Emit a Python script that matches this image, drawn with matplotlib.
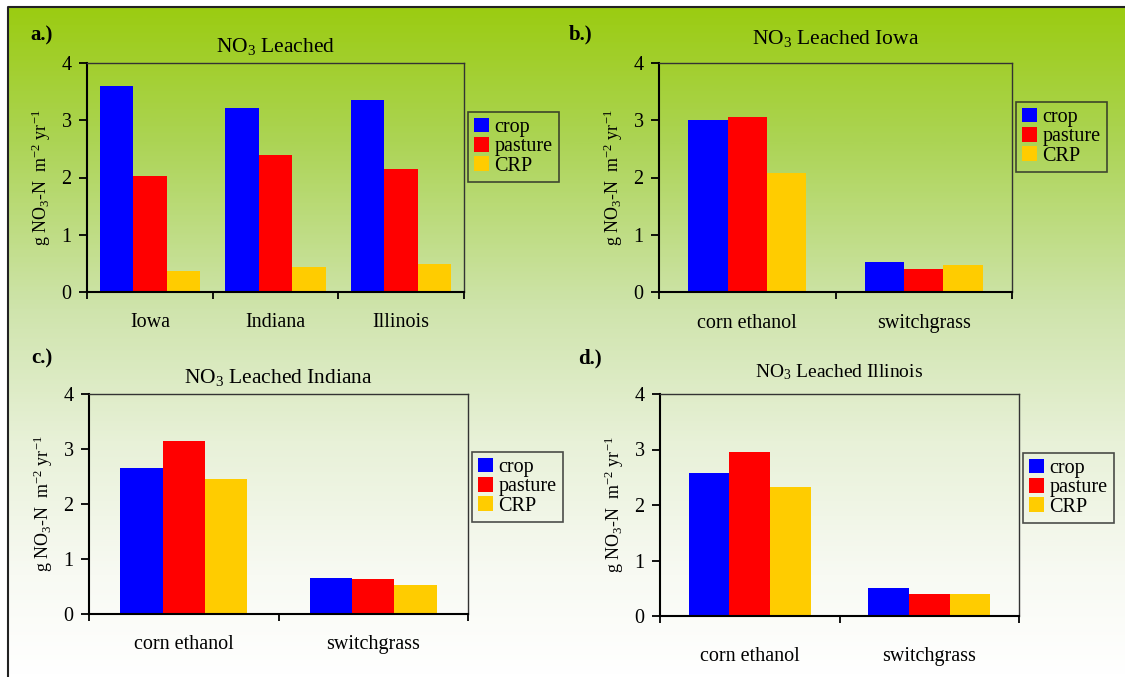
import numpy as np
import matplotlib
matplotlib.use("Agg")
import matplotlib.pyplot as plt
from matplotlib.colors import LinearSegmentedColormap

plt.rcParams['font.family'] = ['Liberation Serif', 'DejaVu Serif']
plt.rcParams['mathtext.fontset'] = 'custom'
plt.rcParams['mathtext.rm'] = 'Liberation Serif'
plt.rcParams['mathtext.it'] = 'Liberation Serif:italic'

# data
series = ['crop', 'pasture', 'CRP']
colors = ['#0000FF', '#FF0000', '#FFCC00']

states = ['Iowa', 'Indiana', 'Illinois']
a_crop = [3.60, 3.21, 3.35]
a_pasture = [2.03, 2.39, 2.15]
a_crp = [0.37, 0.44, 0.49]

fuels = ['corn ethanol', 'switchgrass']
b_crop = [3.01, 0.53]
b_pasture = [3.05, 0.41]
b_crp = [2.08, 0.48]

c_crop = [2.66, 0.66]
c_pasture = [3.15, 0.64]
c_crp = [2.46, 0.53]

d_crop = [2.57, 0.51]
d_pasture = [2.95, 0.40]
d_crp = [2.32, 0.40]

W, H = 1125, 677
fig = plt.figure(figsize=(W / 100, H / 100), dpi=100)

# slide background: green to white gradient with a thin frame
bg = fig.add_axes([0, 0, 1, 1], zorder=-10)
bg.set_xlim(0, W)
bg.set_ylim(H, 0)
bg.axis('off')
grad_cmap = LinearSegmentedColormap.from_list('bg', [
    (0.00, (155/255, 204/255, 18/255)),
    (0.20, (172/255, 212/255, 85/255)),
    (0.45, (207/255, 228/255, 172/255)),
    (0.65, (232/255, 241/255, 216/255)),
    (0.85, (248/255, 250/255, 243/255)),
    (1.00, (1, 1, 1)),
])
grad = np.linspace(0, 1, 400).reshape(-1, 1)
bg.imshow(grad, cmap=grad_cmap, extent=[8, W, H, 7], aspect='auto')
bg.plot([8, 8, W], [H, 7, 7], color='#222222', lw=1.5)


def px_axes(left, top, right, bottom):
    return fig.add_axes([left / W, 1 - bottom / H, (right - left) / W, (bottom - top) / H])


def panel(ax, cats, vals, group, title, title_y, title_size, leg_pos, xpad):
    ax.patch.set_alpha(0)
    n = len(cats)
    x = np.arange(n) + 0.5
    bw = group / len(vals)
    for i, (v, c, lab) in enumerate(zip(vals, colors, series)):
        ax.bar(x + (i - 1) * bw, v, bw, color=c, label=lab, zorder=2)
    ax.set_xlim(0, n)
    ax.set_ylim(0, 4)
    ax.set_yticks([0, 1, 2, 3, 4])
    ax.set_xticks(np.arange(n + 1))
    ax.set_xticklabels([''] * (n + 1))
    ax.set_xticks(x, minor=True)
    ax.set_xticklabels(cats, minor=True, fontsize=14.5)
    ax.tick_params(axis='x', which='minor', length=0, pad=xpad)
    ax.tick_params(axis='x', which='major', direction='out', length=5, width=1.3)
    ax.tick_params(axis='y', direction='out', length=6, width=1.3, labelsize=14.5, pad=5)
    for s in ['left', 'bottom']:
        ax.spines[s].set_linewidth(1.5)
        ax.spines[s].set_color('black')
    for s in ['top', 'right']:
        ax.spines[s].set_linewidth(1.0)
        ax.spines[s].set_color('#333333')
    ax.set_ylabel(r'g NO$_3$-N  m$^{-2}$ yr$^{-1}$', fontsize=13, labelpad=6)
    ax.text(0.5, title_y, title, transform=ax.transAxes, ha='center', va='center',
            fontsize=title_size)
    l, t = leg_pos
    leg = ax.legend(loc='upper left', fontsize=14.5, frameon=True, fancybox=False,
                    handlelength=0.72, handleheight=0.72, handletextpad=0.3,
                    labelspacing=0.0, borderpad=0.3, borderaxespad=0,
                    bbox_to_anchor=(l / W, 1 - t / H), bbox_transform=fig.transFigure)
    fr = leg.get_frame()
    fr.set_facecolor('none')
    fr.set_edgecolor('#222222')
    fr.set_linewidth(1.2)


ax_a = px_axes(87, 63, 464, 292)
panel(ax_a, states, [a_crop, a_pasture, a_crp], 0.80,
      r'NO$_3$ Leached', 1.07, 15.5, (468, 112), 15)

ax_b = px_axes(659, 63, 1012, 292)
panel(ax_b, fuels, [b_crop, b_pasture, b_crp], 0.67,
      r'NO$_3$ Leached Iowa', 1.105, 15.5, (1016, 102), 16)

ax_c = px_axes(89, 394, 468, 614)
panel(ax_c, fuels, [c_crop, c_pasture, c_crp], 0.67,
      r'NO$_3$ Leached Indiana', 1.075, 15.5, (472, 452), 15)

ax_d = px_axes(660, 394, 1019, 616)
panel(ax_d, fuels, [d_crop, d_pasture, d_crp], 0.68,
      r'NO$_3$ Leached Illinois', 1.10, 14, (1023, 453), 22)

for lab, (px, py) in zip(['a.)', 'b.)', 'c.)', 'd.)'],
                         [(30, 35), (569, 34), (31, 358), (578, 358)]):
    fig.text(px / W, 1 - py / H, lab, fontsize=15, fontweight='bold',
             ha='left', va='center')

fig.savefig('out.png', dpi=100)
